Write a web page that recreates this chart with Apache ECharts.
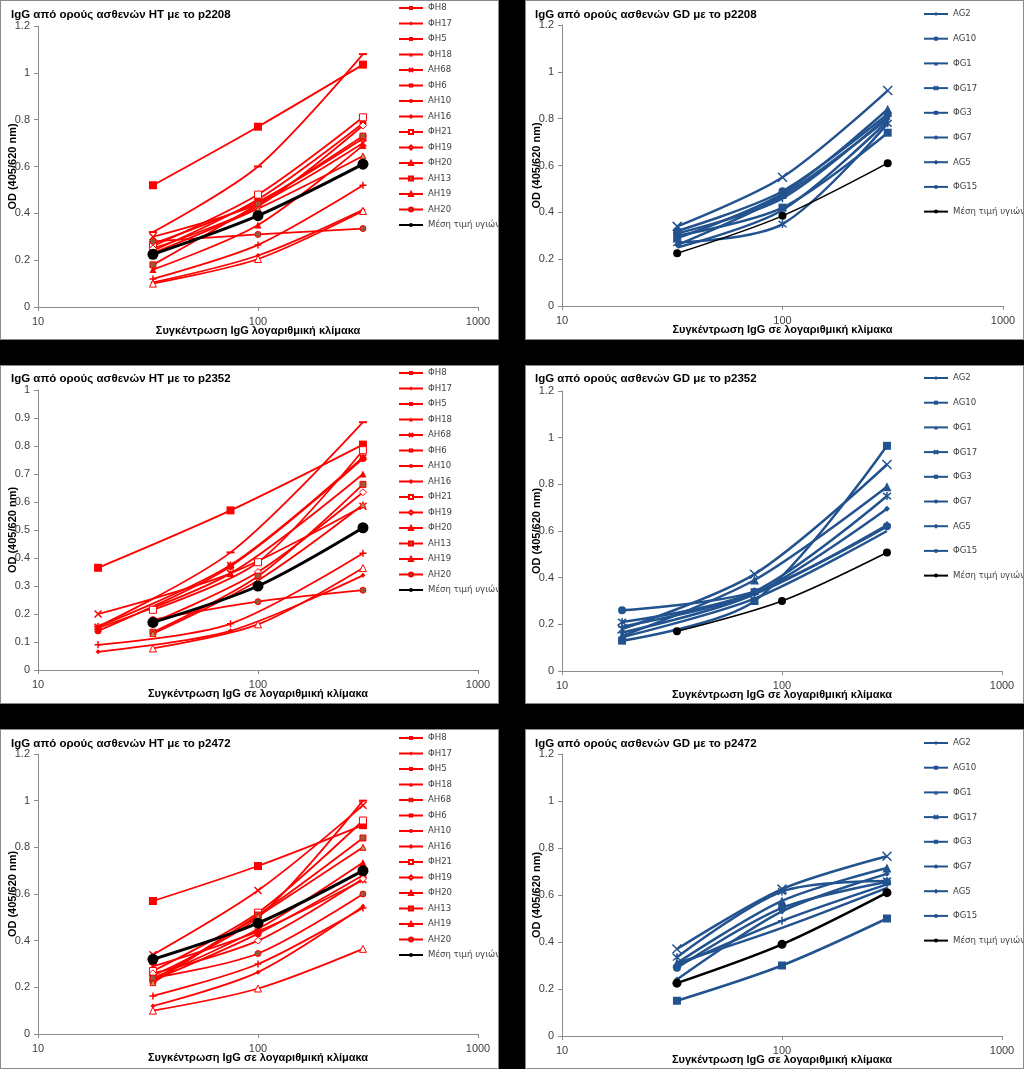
<!DOCTYPE html>
<html><head><meta charset="utf-8">
<script src="https://cdn.jsdelivr.net/npm/echarts@6.0.0/dist/echarts.min.js"></script>
<style>
html,body{margin:0;padding:0;background:#000;width:1024px;height:1069px;overflow:hidden}
.p{position:absolute;background:#fff;box-sizing:border-box;border:1px solid #8a8a8a}
</style></head><body>
<div id="p1" class="p" style="left:0;top:0;width:499px;height:340px"></div>
<div id="p2" class="p" style="left:525px;top:0;width:499px;height:340px"></div>
<div id="p3" class="p" style="left:0;top:365px;width:499px;height:339px"></div>
<div id="p4" class="p" style="left:525px;top:365px;width:499px;height:339px"></div>
<div id="p5" class="p" style="left:0;top:729px;width:499px;height:340px"></div>
<div id="p6" class="p" style="left:525px;top:729px;width:499px;height:340px"></div>
<script>
// ---------- data ----------
const xThree = [33.3, 100, 300];
const xLow = [18.75, 75, 300];
const xTicks = ['10', '100', '1000'];

const htNames = ['ΦH8','ΦH17','ΦH5','ΦH18','AH68','ΦH6','AH10','AH16','ΦH21','ΦH19','ΦH20','AH13','AH19','AH20','Μέση τιμή υγιών'];
const gdNames = ['AG2','AG10','ΦG1','ΦG17','ΦG3','ΦG7','AG5','ΦG15','Μέση τιμή υγιών'];

const ht2208 = [
  [0.32, 0.60, 1.08],
  [0.105, 0.22, 0.415],
  [0.52, 0.77, 1.035],
  [0.16, 0.35, 0.69],
  [0.30, 0.44, 0.70],
  [0.27, 0.45, 0.72],
  [0.24, 0.46, 0.785],
  [0.12, 0.265, 0.52],
  [0.26, 0.48, 0.81],
  [0.25, 0.43, 0.775],
  [0.10, 0.205, 0.41],
  [0.18, 0.44, 0.73],
  [0.23, 0.42, 0.645],
  [0.28, 0.31, 0.335],
  [0.225, 0.39, 0.61]
];
const gd2208 = [
  [0.26, 0.47, 0.80],
  [0.30, 0.42, 0.74],
  [0.29, 0.48, 0.84],
  [0.34, 0.55, 0.92],
  [0.27, 0.35, 0.78],
  [0.32, 0.49, 0.82],
  [0.31, 0.46, 0.81],
  [0.25, 0.41, 0.79],
  [0.225, 0.385, 0.61]
];
const ht2352 = [
  [0.155, 0.42, 0.885],
  [0.065, 0.14, 0.338],
  [0.365, 0.57, 0.805],
  [0.15, 0.345, 0.70],
  [0.20, 0.345, 0.585],
  [0.155, 0.375, 0.76],
  [0.14, 0.37, 0.755],
  [0.09, 0.165, 0.417],
  [0.215, 0.385, 0.785],
  [0.17, 0.35, 0.635],
  [0.077, 0.163, 0.364],
  [0.135, 0.335, 0.663],
  [0.13, 0.32, 0.59],
  [0.18, 0.244, 0.285],
  [0.17, 0.30, 0.508]
];
// which x set each HT p2352 series uses: 0 = xLow, 1 = xThree
const ht2352XSet = [0,0,0,0,0,0,0,0,1,1,1,1,1,1,1];
const gd2352 = [
  [0.165, 0.33, 0.695],
  [0.13, 0.30, 0.965],
  [0.15, 0.39, 0.79],
  [0.18, 0.415, 0.885],
  [0.21, 0.34, 0.75],
  [0.26, 0.34, 0.62],
  [0.19, 0.33, 0.625],
  [0.145, 0.31, 0.60],
  [0.17, 0.30, 0.508]
];
const gd2352XSet = [0,0,0,0,0,0,0,0,1];
const ht2472 = [
  [0.25, 0.50, 1.0],
  [0.12, 0.265, 0.547],
  [0.57, 0.72, 0.895],
  [0.24, 0.45, 0.735],
  [0.34, 0.615, 0.98],
  [0.29, 0.44, 0.66],
  [0.23, 0.43, 0.68],
  [0.163, 0.30, 0.54],
  [0.27, 0.52, 0.915],
  [0.26, 0.40, 0.665],
  [0.10, 0.195, 0.365],
  [0.23, 0.51, 0.84],
  [0.22, 0.505, 0.80],
  [0.24, 0.345, 0.60],
  [0.32, 0.475, 0.70]
];
const gd2472 = [
  [0.24, 0.53, 0.69],
  [0.15, 0.30, 0.50],
  [0.31, 0.575, 0.715],
  [0.37, 0.625, 0.765],
  [0.335, 0.615, 0.66],
  [0.29, 0.545, 0.655],
  [0.30, 0.49, 0.645],
  [0.31, 0.46, 0.63],
  [0.225, 0.39, 0.61]
];

// ---------- styles ----------
const RED = '#ff0000', BLUE = '#23538f', BLACK = '#000000';
const SX = 'path://M1,1L9,9M9,1L1,9';
const SSTAR = 'path://M1,1L9,9M9,1L1,9M5,0L5,10';
const SPLUS = 'path://M5,0L5,10M0,5L10,5';
const htMarks = [
  {s:'rect', z:[8,2]},
  {s:'diamond', z:5},
  {s:'rect', z:8},
  {s:'triangle', z:7},
  {s:SX, z:7, stroke:true},
  {s:SSTAR, z:7, stroke:true},
  {s:'circle', z:7},
  {s:SPLUS, z:7, stroke:true},
  {s:'rect', z:7, fill:'#ffffff'},
  {s:'diamond', z:7, fill:'#ffffff'},
  {s:'triangle', z:7, fill:'#ffffff'},
  {s:'rect', z:6, fill:'#9c5a36'},
  {s:'triangle', z:6, fill:'#b39a5c'},
  {s:'circle', z:6, fill:'#8f5c3c'},
  {s:'circle', z:11, black:true}
];
const gdMarks = [
  {s:'diamond', z:6},
  {s:'rect', z:8},
  {s:'triangle', z:9},
  {s:SX, z:9, stroke:true},
  {s:SSTAR, z:8, stroke:true},
  {s:'circle', z:8},
  {s:SPLUS, z:8, stroke:true},
  {s:'none', z:6},
  {s:'circle', z:8, black:true}
];

const FONT = "'Liberation Sans', Arial, sans-serif";
const NARROW = "'Liberation Sans Narrow', 'Arial Narrow', 'DejaVu Sans Condensed', sans-serif";

function buildSeries(names, rows, xsets, marks, base, lw, blackW, blackSize) {
  return names.map((n, i) => {
    const m = marks[i];
    const xs = xsets[i];
    const col = m.black ? BLACK : base;
    const item = {color: m.fill || col, borderColor: col, borderWidth: m.stroke ? 1.5 : (m.fill ? 1 : 0)};
    return {
      name: n, type: 'line', smooth: 0.3,
      data: xs.map((x, k) => [x, rows[i][k]]),
      symbol: m.s, symbolSize: m.black && blackSize ? blackSize : m.z,
      showSymbol: true,
      lineStyle: {color: col, width: m.black ? blackW : lw},
      itemStyle: item,
      emphasis: {disabled: true},
      z: m.black ? 5 : 2
    };
  });
}

function makePanel(id, cfg) {
  const chart = echarts.init(document.getElementById(id), null, {renderer: 'canvas'});
  chart.setOption({
    animation: false,
    textStyle: {fontFamily: FONT},
    title: {text: cfg.title, left: cfg.titleLeft, top: cfg.titleTop, padding: 0,
      textStyle: {fontFamily: FONT, fontSize: 11.5, fontWeight: 'bold', color: '#000'}},
    legend: {orient: 'vertical', left: cfg.legLeft, top: cfg.legTop, padding: 0, itemWidth: 24, itemHeight: 5,
      itemGap: cfg.legGap, selectedMode: false, data: cfg.names,
      textStyle: {fontFamily: NARROW, fontSize: 9.5, color: '#404040', lineHeight: 12}},
    grid: Object.assign({containLabel: false, outerBoundsMode: 'none'}, cfg.grid),
    xAxis: {type: 'log', logBase: 10, min: 10, max: 1000,
      name: cfg.xName, nameLocation: 'middle', nameGap: 18, nameMoveOverlap: false,
      nameTextStyle: {fontFamily: FONT, fontSize: 11, fontWeight: 'bold', color: '#000'},
      axisLine: {lineStyle: {color: '#8c8c8c'}},
      axisTick: {show: true, length: 4, lineStyle: {color: '#8c8c8c'}},
      axisLabel: {margin: 9, color: '#404040', fontSize: 11, fontFamily: FONT,
        formatter: v => xTicks[Math.round(Math.log10(v)) - 1] || ''},
      splitLine: {show: false}, minorTick: {show: false}},
    yAxis: {type: 'value', min: 0, max: cfg.yMax, interval: cfg.yInt,
      name: 'OD (405/620 nm)', nameLocation: 'middle', nameGap: 20, nameMoveOverlap: false,
      nameTextStyle: {fontFamily: FONT, fontSize: 11, fontWeight: 'bold', color: '#000'},
      axisLine: {show: true, lineStyle: {color: '#8c8c8c'}},
      axisTick: {show: true, length: 4, lineStyle: {color: '#8c8c8c'}},
      axisLabel: {margin: 8, color: '#404040', fontSize: 11, fontFamily: FONT},
      splitLine: {show: false}},
    series: cfg.series
  });
}

const xsAll3 = n => Array(n).fill(xThree);
const xsMap = arr => arr.map(k => k === 0 ? xLow : xThree);

makePanel('p1', {
  title: 'IgG από ορούς ασθενών HT με το p2208', titleLeft: 10, titleTop: 8,
  names: htNames, legLeft: 397, legTop: 1, legGap: 3.5,
  grid: {left: 37, right: 20, top: 25, bottom: 32},
  xName: 'Συγκέντρωση IgG λογαριθμική κλίμακα', yMax: 1.2, yInt: 0.2,
  series: buildSeries(htNames, ht2208, xsAll3(15), htMarks, RED, 1.8, 3, 11)
});
makePanel('p2', {
  title: 'IgG από ορούς ασθενών GD με το p2208', titleLeft: 9, titleTop: 8,
  names: gdNames, legLeft: 397, legTop: 7, legGap: 12.7,
  grid: {left: 36, right: 20, top: 24, bottom: 33},
  xName: 'Συγκέντρωση IgG σε λογαριθμική κλίμακα', yMax: 1.2, yInt: 0.2,
  series: buildSeries(gdNames, gd2208, xsAll3(9), gdMarks, BLUE, 2.5, 1.5, 8)
});
makePanel('p3', {
  title: 'IgG από ορούς ασθενών HT με το p2352', titleLeft: 10, titleTop: 7,
  names: htNames, legLeft: 397, legTop: 1, legGap: 3.5,
  grid: {left: 37, right: 20, top: 24, bottom: 33},
  xName: 'Συγκέντρωση IgG σε λογαριθμική κλίμακα', yMax: 1, yInt: 0.1,
  series: buildSeries(htNames, ht2352, xsMap(ht2352XSet), htMarks, RED, 1.8, 3, 11)
});
makePanel('p4', {
  title: 'IgG από ορούς ασθενών GD με το p2352', titleLeft: 9, titleTop: 7,
  names: gdNames, legLeft: 397, legTop: 6, legGap: 12.7,
  grid: {left: 36, right: 21, top: 25, bottom: 32},
  xName: 'Συγκέντρωση IgG σε λογαριθμική κλίμακα', yMax: 1.2, yInt: 0.2,
  series: buildSeries(gdNames, gd2352, xsMap(gd2352XSet), gdMarks, BLUE, 2.5, 1.5, 8)
});
makePanel('p5', {
  title: 'IgG από ορούς ασθενών HT με το p2472', titleLeft: 10, titleTop: 8,
  names: htNames, legLeft: 397, legTop: 2, legGap: 3.5,
  grid: {left: 37, right: 20, top: 24, bottom: 34},
  xName: 'Συγκέντρωση IgG σε λογαριθμική κλίμακα', yMax: 1.2, yInt: 0.2,
  series: buildSeries(htNames, ht2472, xsAll3(15), htMarks, RED, 1.8, 3, 11)
});
makePanel('p6', {
  title: 'IgG από ορούς ασθενών GD με το p2472', titleLeft: 9, titleTop: 8,
  names: gdNames, legLeft: 397, legTop: 7, legGap: 12.7,
  grid: {left: 36, right: 21, top: 24, bottom: 32},
  xName: 'Συγκέντρωση IgG σε λογαριθμική κλίμακα', yMax: 1.2, yInt: 0.2,
  series: buildSeries(gdNames, gd2472, xsAll3(9), gdMarks, BLUE, 2.5, 2.5, 9)
});
</script>
</body></html>
